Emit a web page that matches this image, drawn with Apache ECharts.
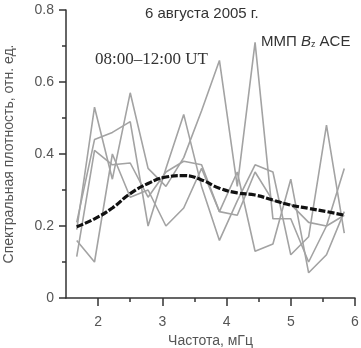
<!DOCTYPE html>
<html>
<head>
<meta charset="utf-8">
<script src="https://cdn.jsdelivr.net/npm/echarts@6/dist/echarts.min.js"></script>
<style>
  html, body { margin: 0; padding: 0; background: #fff; }
  #main { width: 361px; height: 348px; }
</style>
</head>
<body>
<div id="main"></div>
<script>
// frequency grid, mHz (step 1/3.6 mHz)
const freqs = [1.667, 1.944, 2.222, 2.5, 2.778, 3.056, 3.333, 3.611, 3.889, 4.167, 4.444, 4.722, 5.0, 5.278, 5.556, 5.833];

// individual spectra (gray)
const spec1 = [0.19, 0.53, 0.33, 0.57, 0.36, 0.31, 0.39, 0.52, 0.66, 0.31, 0.71, 0.22, 0.22, 0.10, 0.20, 0.36];
const spec2 = [0.21, 0.44, 0.46, 0.49, 0.20, 0.36, 0.51, 0.31, 0.16, 0.27, 0.37, 0.35, 0.12, 0.17, 0.48, 0.18];
const spec3 = [0.16, 0.10, 0.40, 0.28, 0.30, 0.20, 0.25, 0.36, 0.24, 0.35, 0.13, 0.15, 0.33, 0.07, 0.12, 0.24];
const spec4 = [0.115, 0.41, 0.37, 0.375, 0.28, 0.35, 0.38, 0.37, 0.24, 0.23, 0.35, 0.27, 0.26, 0.21, 0.20, 0.23];

// mean spectrum (black dashed)
const mean = [0.198, 0.22, 0.25, 0.29, 0.318, 0.336, 0.34, 0.328, 0.305, 0.292, 0.286, 0.272, 0.258, 0.249, 0.24, 0.23];

const xMajor = [2, 3, 4, 5, 6];
const xMinor = [2.5, 3.5, 4.5, 5.5];

const pairs = (ys) => freqs.map((f, i) => [f, ys[i]]);

const chart = echarts.init(document.getElementById("main"));

const font = "Liberation Sans, Arial, sans-serif";
const grayLine = (ys) => ({
  type: "line",
  data: pairs(ys),
  symbol: "none",
  lineStyle: { color: "#a3a3a3", width: 1.6 },
  z: 2,
});

chart.setOption({
  animation: false,
  backgroundColor: "#fff",
  grid: { left: 66, right: 6, top: 10, bottom: 50, outerBoundsMode: "none" },
  xAxis: [
    {
      type: "value",
      min: 1.5,
      max: 6,
      splitLine: { show: false },
      axisLine: { lineStyle: { color: "#333", width: 1.5 } },
      axisTick: { customValues: xMajor, length: 8, lineStyle: { color: "#333", width: 1.5 } },
      axisLabel: {
        customValues: xMajor,
        color: "#555",
        fontFamily: font,
        fontSize: 14,
        margin: 17,
      },
      name: "Частота, мГц",
      nameLocation: "middle",
      nameGap: 33,
      nameTextStyle: { color: "#555", fontFamily: font, fontSize: 14 },
    },
    {
      type: "value",
      position: "bottom",
      min: 1.5,
      max: 6,
      splitLine: { show: false },
      axisLine: { show: false },
      axisTick: { customValues: xMinor, length: 4, lineStyle: { color: "#333", width: 1.5 } },
      axisLabel: { show: false },
    },
  ],
  yAxis: {
    type: "value",
    min: 0,
    max: 0.8,
    interval: 0.2,
    splitLine: { show: false },
    axisLine: { show: true, lineStyle: { color: "#333", width: 1.5 } },
    axisTick: { show: true, length: 7, lineStyle: { color: "#333", width: 1.5 } },
    minorTick: { show: true, splitNumber: 2, length: 4, lineStyle: { color: "#333", width: 1.5 } },
    axisLabel: {
      color: "#555",
      fontFamily: font,
      fontSize: 14,
      margin: 12,
      formatter: (v) => (v === 0 ? "0" : v.toFixed(1)),
    },
    name: "Спектральная плотность, отн. ед.",
    nameLocation: "middle",
    nameGap: 50,
    nameTextStyle: { color: "#555", fontFamily: font, fontSize: 14 },
  },
  series: [
    grayLine(spec1),
    grayLine(spec2),
    grayLine(spec3),
    grayLine(spec4),
    {
      type: "line",
      data: pairs(mean),
      symbol: "none",
      smooth: true,
      lineStyle: { color: "#111", width: 3.2, type: [7, 2] },
      z: 5,
    },
  ],
  graphic: [
    {
      type: "text",
      left: 145,
      top: 6,
      style: { text: "6 августа 2005 г.", font: "15px Liberation Sans, Arial, sans-serif", fill: "#333" },
    },
    {
      type: "text",
      left: 95,
      top: 51,
      style: { text: "08:00–12:00 UT", font: "17px Liberation Serif, Times New Roman, serif", fill: "#333" },
    },
    {
      type: "text",
      left: 261,
      top: 34,
      style: {
        text: "ММП {i|B}{s|z} ACE",
        font: "15px Liberation Sans, Arial, sans-serif",
        fill: "#333",
        rich: {
          i: { fontStyle: "italic", fontFamily: font, fontSize: 15, fill: "#333" },
          s: { fontFamily: font, fontSize: 9, fill: "#333", verticalAlign: "bottom", padding: [7, 0, 0, 0] },
        },
      },
    },
  ],
});
</script>
</body>
</html>
